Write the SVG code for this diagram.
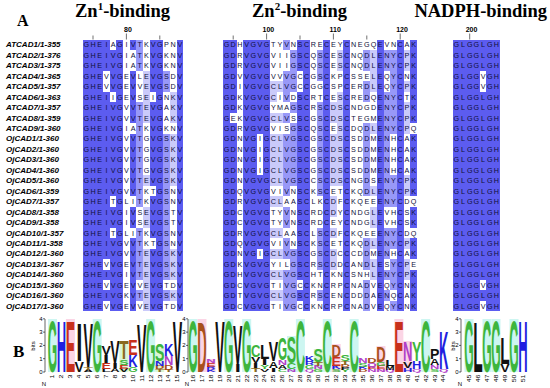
<svg xmlns="http://www.w3.org/2000/svg" width="550" height="388" viewBox="0 0 550 388">
<style>
.hd{font-family:"Liberation Serif",serif;font-weight:bold;font-size:18.5px;fill:#000}
.lab{font-family:"Liberation Sans",sans-serif;font-weight:bold;font-style:italic;font-size:8px;fill:#000}
.sq{font-family:"Liberation Sans",sans-serif;font-size:7.2px;text-anchor:middle;fill:#10103a}
.rl{font-family:"Liberation Sans",sans-serif;font-weight:bold;font-size:7px;text-anchor:middle;fill:#000}
.tk{stroke:#333;stroke-width:0.7}
.d{fill:#5c5cf0}.m{fill:#9898f8}.l{fill:#cacafa}
.lg{font-family:"Liberation Sans",sans-serif;font-weight:bold;font-size:10px;text-anchor:middle}
.g{fill:#3db53d}.b{fill:#1f1fe0}.r{fill:#c8301c}.o{fill:#a8501c}.k{fill:#111}.p{fill:#b040c8}.t{fill:#8a6a20}
.cy{fill:#cdf6f1}.pk{fill:#fbd5e5}.lgr{fill:#daf5d5}
.ax{stroke:#000;stroke-width:0.6;fill:none}
.al{font-family:"Liberation Sans",sans-serif;font-size:6px;fill:#000;text-anchor:end}
.pn{font-family:"Liberation Sans",sans-serif;font-size:5px;fill:#000;text-anchor:end}
</style>
<rect width="550" height="388" fill="#fff"/>
<g id="headers">
<text x="17" y="25.5" class="hd" style="font-size:16px">A</text>
<text x="75" y="16.5" class="hd">Zn<tspan font-size="11" dy="-6.5">1</tspan><tspan dy="6.5">-binding</tspan></text>
<text x="252" y="16.5" class="hd">Zn<tspan font-size="11" dy="-6.5">2</tspan><tspan dy="6.5">-binding</tspan></text>
<text x="547" y="16.5" class="hd" text-anchor="end">NADPH-binding</text>
<text x="13" y="357" class="hd" style="font-size:17px">B</text>
</g>
<g id="ruler">
<text x="127.9" y="32" class="rl">80</text>
<text x="268.4" y="32" class="rl">100</text>
<text x="335.2" y="32" class="rl">110</text>
<text x="402" y="32" class="rl">120</text>
<text x="471.5" y="32" class="rl">200</text>
<path class="tk" d="M93 35.5V39.5M126.4 33.5V39.5M159.8 35.5V39.5M233.2 35.5V39.5M266.6 33.5V39.5M300 35.5V39.5M333.4 33.5V39.5M366.8 35.5V39.5M400.2 33.5V39.5M469.7 33.5V39.5"/>
</g>
<g id="labels" class="lab">
<text x="6" y="47.4">ATCAD1/1-355</text>
<text x="6" y="57.85">ATCAD2/1-376</text>
<text x="6" y="68.3">ATCAD3/1-375</text>
<text x="6" y="78.75">ATCAD4/1-365</text>
<text x="6" y="89.2">ATCAD5/1-357</text>
<text x="6" y="99.65">ATCAD6/1-363</text>
<text x="6" y="110.1">ATCAD7/1-357</text>
<text x="6" y="120.55">ATCAD8/1-359</text>
<text x="6" y="131">ATCAD9/1-360</text>
<text x="6" y="141.45">OjCAD1/1-360</text>
<text x="6" y="151.9">OjCAD2/1-360</text>
<text x="6" y="162.35">OjCAD3/1-360</text>
<text x="6" y="172.8">OjCAD4/1-360</text>
<text x="6" y="183.25">OjCAD5/1-360</text>
<text x="6" y="193.7">OjCAD6/1-359</text>
<text x="6" y="204.15">OjCAD7/1-357</text>
<text x="6" y="214.6">OjCAD8/1-358</text>
<text x="6" y="225.05">OjCAD9/1-358</text>
<text x="6" y="235.5">OjCAD10/1-357</text>
<text x="6" y="245.95">OjCAD11/1-358</text>
<text x="6" y="256.4">OjCAD12/1-360</text>
<text x="6" y="266.85">OjCAD13/1-367</text>
<text x="6" y="277.3">OjCAD14/1-360</text>
<text x="6" y="287.75">OjCAD15/1-360</text>
<text x="6" y="298.2">OjCAD16/1-360</text>
<text x="6" y="308.65">OjCAD17/1-360</text>
</g>
<g id="zn1-shading" transform="translate(83,39.6) scale(6.68,10.45)" shape-rendering="crispEdges">
<rect class="d" x="0" y="0" width="3" height="26"/>
<rect class="d" x="3" y="0" width="1" height="3"/><rect class="d" x="3" y="5" width="1" height="16"/><rect class="d" x="3" y="22" width="1" height="1"/><rect class="d" x="3" y="24" width="1" height="1"/>
<rect class="d" x="4" y="1" width="1" height="4"/><rect class="d" x="4" y="6" width="1" height="9"/><rect class="d" x="4" y="16" width="1" height="2"/><rect class="d" x="4" y="19" width="1" height="7"/>
<rect class="d" x="5" y="0" width="1" height="26"/>
<rect class="d" x="7" y="0" width="1" height="1"/><rect class="d" x="7" y="3" width="1" height="5"/><rect class="d" x="7" y="9" width="1" height="6"/><rect class="d" x="7" y="16" width="1" height="2"/><rect class="d" x="7" y="19" width="1" height="7"/>
<rect class="m" x="8" y="0" width="1" height="3"/><rect class="m" x="8" y="6" width="1" height="10"/><rect class="m" x="8" y="18" width="1" height="5"/><rect class="m" x="8" y="24" width="1" height="1"/>
<rect class="l" x="9" y="3" width="1" height="5"/><rect class="l" x="9" y="13" width="1" height="1"/><rect class="l" x="9" y="16" width="1" height="2"/><rect class="l" x="9" y="20" width="1" height="6"/>
<rect class="d" x="10" y="0" width="1" height="5"/><rect class="d" x="10" y="6" width="1" height="8"/><rect class="d" x="10" y="15" width="1" height="4"/><rect class="d" x="10" y="20" width="1" height="6"/>
<rect class="d" x="11" y="0" width="1" height="26"/>
<rect class="m" x="12" y="3" width="1" height="2"/><rect class="m" x="12" y="9" width="1" height="14"/><rect class="m" x="12" y="24" width="1" height="1"/>
<rect class="l" x="13" y="5" width="1" height="3"/><rect class="l" x="13" y="9" width="1" height="5"/><rect class="l" x="13" y="20" width="1" height="3"/><rect class="l" x="13" y="24" width="1" height="1"/>
<rect class="d" x="14" y="0" width="1" height="26"/>
</g>
<g id="zn2-shading" transform="translate(223.2,39.6) scale(6.68,10.45)" shape-rendering="crispEdges">
<rect class="d" x="0" y="0" width="1" height="26"/>
<rect class="d" x="1" y="0" width="1" height="7"/><rect class="d" x="1" y="8" width="1" height="18"/>
<rect class="d" x="3" y="0" width="2" height="26"/>
<rect class="d" x="5" y="0" width="1" height="9"/><rect class="d" x="5" y="13" width="1" height="7"/><rect class="d" x="5" y="21" width="1" height="5"/>
<rect class="d" x="6" y="0" width="1" height="26"/>
<rect class="l" x="7" y="5" width="1" height="1"/>
<rect class="l" x="7" y="4" width="2" height="1"/><rect class="l" x="7" y="7" width="2" height="1"/><rect class="l" x="7" y="9" width="2" height="5"/><rect class="l" x="7" y="15" width="2" height="1"/><rect class="l" x="7" y="18" width="2" height="1"/><rect class="l" x="7" y="20" width="2" height="1"/><rect class="l" x="7" y="22" width="2" height="1"/><rect class="l" x="7" y="24" width="2" height="1"/>
<rect class="m" x="9" y="0" width="1" height="1"/><rect class="m" x="9" y="3" width="1" height="3"/><rect class="m" x="9" y="7" width="1" height="1"/><rect class="m" x="9" y="9" width="1" height="6"/><rect class="m" x="9" y="16" width="1" height="2"/><rect class="m" x="9" y="19" width="1" height="2"/><rect class="m" x="9" y="22" width="1" height="4"/>
<rect class="m" x="10" y="1" width="1" height="4"/><rect class="m" x="10" y="6" width="1" height="1"/><rect class="m" x="10" y="8" width="1" height="6"/><rect class="m" x="10" y="20" width="1" height="6"/>
<rect class="d" x="11" y="0" width="1" height="3"/><rect class="d" x="11" y="5" width="1" height="18"/><rect class="d" x="11" y="24" width="1" height="1"/>
<rect class="d" x="12" y="0" width="1" height="26"/>
<rect class="m" x="14" y="1" width="1" height="3"/><rect class="m" x="14" y="6" width="1" height="9"/><rect class="m" x="14" y="18" width="1" height="4"/><rect class="m" x="14" y="24" width="1" height="1"/>
<rect class="d" x="15" y="0" width="1" height="26"/>
<rect class="l" x="16" y="6" width="1" height="2"/><rect class="l" x="16" y="9" width="1" height="5"/><rect class="l" x="16" y="15" width="1" height="2"/><rect class="l" x="16" y="18" width="1" height="1"/><rect class="l" x="16" y="20" width="1" height="2"/>
<rect class="l" x="17" y="1" width="1" height="2"/><rect class="l" x="17" y="5" width="1" height="9"/>
<rect class="d" x="18" y="0" width="1" height="26"/>
<rect class="m" x="21" y="1" width="1" height="2"/><rect class="m" x="21" y="4" width="1" height="2"/><rect class="m" x="21" y="8" width="1" height="7"/><rect class="m" x="21" y="19" width="1" height="3"/><rect class="m" x="21" y="23" width="1" height="3"/>
<rect class="l" x="22" y="1" width="1" height="4"/><rect class="l" x="22" y="8" width="1" height="1"/><rect class="l" x="22" y="14" width="1" height="1"/><rect class="l" x="22" y="16" width="1" height="2"/><rect class="l" x="22" y="19" width="1" height="1"/><rect class="l" x="22" y="21" width="1" height="2"/>
<rect class="d" x="23" y="0" width="1" height="26"/>
<rect class="m" x="24" y="1" width="1" height="2"/><rect class="m" x="24" y="5" width="1" height="11"/><rect class="m" x="24" y="18" width="1" height="3"/><rect class="m" x="24" y="22" width="1" height="1"/><rect class="m" x="24" y="24" width="1" height="1"/>
<rect class="m" x="25" y="1" width="1" height="8"/><rect class="m" x="25" y="13" width="1" height="3"/><rect class="m" x="25" y="18" width="1" height="2"/><rect class="m" x="25" y="21" width="1" height="3"/><rect class="m" x="25" y="25" width="1" height="1"/>
<rect class="d" x="26" y="0" width="1" height="26"/>
<rect class="l" x="27" y="1" width="1" height="2"/><rect class="l" x="27" y="4" width="1" height="1"/><rect class="l" x="27" y="6" width="1" height="3"/><rect class="l" x="27" y="13" width="1" height="2"/><rect class="l" x="27" y="19" width="1" height="1"/><rect class="l" x="27" y="21" width="1" height="2"/>
<rect class="d" x="28" y="0" width="1" height="8"/><rect class="d" x="28" y="9" width="1" height="6"/><rect class="d" x="28" y="16" width="1" height="2"/><rect class="d" x="28" y="19" width="1" height="2"/><rect class="d" x="28" y="22" width="1" height="4"/>
</g>
<g id="nadph-shading" transform="translate(453,39.6) scale(6.68,10.45)" shape-rendering="crispEdges">
<rect class="d" x="0" y="0" width="4" height="26"/>
<rect class="d" x="4" y="0" width="1" height="3"/><rect class="d" x="4" y="5" width="1" height="18"/><rect class="d" x="4" y="24" width="1" height="1"/>
<rect class="d" x="5" y="0" width="2" height="26"/>
</g>
<g id="zn1-seq" class="sq" transform="translate(83,0)">
<text x="3.3 10 16.7 23.4 30.1 36.7 43.4 50.1 56.8 63.5 70.1 76.8 83.5 90.2 96.9" y="47.4">GHEIAGIVTKVGPNV</text>
<text x="3.3 10 16.7 23.4 30.1 36.7 43.4 50.1 56.8 63.5 70.1 76.8 83.5 90.2 96.9" y="57.85">GHEIVGIATKVGKNV</text>
<text x="3.3 10 16.7 23.4 30.1 36.7 43.4 50.1 56.8 63.5 70.1 76.8 83.5 90.2 96.9" y="68.3">GHEIVGIATKVGKNV</text>
<text x="3.3 10 16.7 23.4 30.1 36.7 43.4 50.1 56.8 63.5 70.1 76.8 83.5 90.2 96.9" y="78.75">GHEVVGEVLEVGSDV</text>
<text x="3.3 10 16.7 23.4 30.1 36.7 43.4 50.1 56.8 63.5 70.1 76.8 83.5 90.2 96.9" y="89.2">GHEVVGEVVEVGSDV</text>
<text x="3.3 10 16.7 23.4 30.1 36.7 43.4 50.1 56.8 63.5 70.1 76.8 83.5 90.2 96.9" y="99.65">GHEIIGEVSEIGNKV</text>
<text x="3.3 10 16.7 23.4 30.1 36.7 43.4 50.1 56.8 63.5 70.1 76.8 83.5 90.2 96.9" y="110.1">GHEIVGVVTEVGAKV</text>
<text x="3.3 10 16.7 23.4 30.1 36.7 43.4 50.1 56.8 63.5 70.1 76.8 83.5 90.2 96.9" y="120.55">GHEIVGVVTEVGAKV</text>
<text x="3.3 10 16.7 23.4 30.1 36.7 43.4 50.1 56.8 63.5 70.1 76.8 83.5 90.2 96.9" y="131">GHEIVGIATKVGKNV</text>
<text x="3.3 10 16.7 23.4 30.1 36.7 43.4 50.1 56.8 63.5 70.1 76.8 83.5 90.2 96.9" y="141.45">GHEIVGVVTGVGSKV</text>
<text x="3.3 10 16.7 23.4 30.1 36.7 43.4 50.1 56.8 63.5 70.1 76.8 83.5 90.2 96.9" y="151.9">GHEIVGVVTGVGSKV</text>
<text x="3.3 10 16.7 23.4 30.1 36.7 43.4 50.1 56.8 63.5 70.1 76.8 83.5 90.2 96.9" y="162.35">GHEIVGVVTGVGSKV</text>
<text x="3.3 10 16.7 23.4 30.1 36.7 43.4 50.1 56.8 63.5 70.1 76.8 83.5 90.2 96.9" y="172.8">GHEIVGVVTGVGSKV</text>
<text x="3.3 10 16.7 23.4 30.1 36.7 43.4 50.1 56.8 63.5 70.1 76.8 83.5 90.2 96.9" y="183.25">GHEIVGVVTEVGSKV</text>
<text x="3.3 10 16.7 23.4 30.1 36.7 43.4 50.1 56.8 63.5 70.1 76.8 83.5 90.2 96.9" y="193.7">GHEIVGVVTKTGSNV</text>
<text x="3.3 10 16.7 23.4 30.1 36.7 43.4 50.1 56.8 63.5 70.1 76.8 83.5 90.2 96.9" y="204.15">GHEITGLITKVGSNV</text>
<text x="3.3 10 16.7 23.4 30.1 36.7 43.4 50.1 56.8 63.5 70.1 76.8 83.5 90.2 96.9" y="214.6">GHEIVGIVSEVGSTV</text>
<text x="3.3 10 16.7 23.4 30.1 36.7 43.4 50.1 56.8 63.5 70.1 76.8 83.5 90.2 96.9" y="225.05">GHEIVGIVSEVGSTV</text>
<text x="3.3 10 16.7 23.4 30.1 36.7 43.4 50.1 56.8 63.5 70.1 76.8 83.5 90.2 96.9" y="235.5">GHEITGLITKVGSNV</text>
<text x="3.3 10 16.7 23.4 30.1 36.7 43.4 50.1 56.8 63.5 70.1 76.8 83.5 90.2 96.9" y="245.95">GHEIVGVVTKTGSNV</text>
<text x="3.3 10 16.7 23.4 30.1 36.7 43.4 50.1 56.8 63.5 70.1 76.8 83.5 90.2 96.9" y="256.4">GHEIVGVVTEVGSKV</text>
<text x="3.3 10 16.7 23.4 30.1 36.7 43.4 50.1 56.8 63.5 70.1 76.8 83.5 90.2 96.9" y="266.85">GHEVVGEVTEVGSKV</text>
<text x="3.3 10 16.7 23.4 30.1 36.7 43.4 50.1 56.8 63.5 70.1 76.8 83.5 90.2 96.9" y="277.3">GHEIVGIVTEVGSKV</text>
<text x="3.3 10 16.7 23.4 30.1 36.7 43.4 50.1 56.8 63.5 70.1 76.8 83.5 90.2 96.9" y="287.75">GHEVVGEVVEVGTDV</text>
<text x="3.3 10 16.7 23.4 30.1 36.7 43.4 50.1 56.8 63.5 70.1 76.8 83.5 90.2 96.9" y="298.2">GHEIVGKVTEVGSKV</text>
<text x="3.3 10 16.7 23.4 30.1 36.7 43.4 50.1 56.8 63.5 70.1 76.8 83.5 90.2 96.9" y="308.65">GHEVVGEVVEVGTDV</text>
</g>
<g id="zn2-seq" class="sq" transform="translate(223.2,0)">
<text x="3.3 10 16.7 23.4 30.1 36.7 43.4 50.1 56.8 63.5 70.1 76.8 83.5 90.2 96.9 103.5 110.2 116.9 123.6 130.3 136.9 143.6 150.3 157 163.7 170.3 177 183.7 190.4" y="47.4">GDHVGVGTYVNSCRECEYCNEGQEVNCAK</text>
<text x="3.3 10 16.7 23.4 30.1 36.7 43.4 50.1 56.8 63.5 70.1 76.8 83.5 90.2 96.9 103.5 110.2 116.9 123.6 130.3 136.9 143.6 150.3 157 163.7 170.3 177 183.7 190.4" y="57.85">GDRVGVGVIIGSCQSCESCNQDLENYCPK</text>
<text x="3.3 10 16.7 23.4 30.1 36.7 43.4 50.1 56.8 63.5 70.1 76.8 83.5 90.2 96.9 103.5 110.2 116.9 123.6 130.3 136.9 143.6 150.3 157 163.7 170.3 177 183.7 190.4" y="68.3">GDRVGVGVIIGSCQSCESCNQDLENYCPK</text>
<text x="3.3 10 16.7 23.4 30.1 36.7 43.4 50.1 56.8 63.5 70.1 76.8 83.5 90.2 96.9 103.5 110.2 116.9 123.6 130.3 136.9 143.6 150.3 157 163.7 170.3 177 183.7 190.4" y="78.75">GDVVGVGVVVGCCGSCKPCSSELEQYCNK</text>
<text x="3.3 10 16.7 23.4 30.1 36.7 43.4 50.1 56.8 63.5 70.1 76.8 83.5 90.2 96.9 103.5 110.2 116.9 123.6 130.3 136.9 143.6 150.3 157 163.7 170.3 177 183.7 190.4" y="89.2">GDIVGVGCLVGCCGGCSPCERDLEQYCPK</text>
<text x="3.3 10 16.7 23.4 30.1 36.7 43.4 50.1 56.8 63.5 70.1 76.8 83.5 90.2 96.9 103.5 110.2 116.9 123.6 130.3 136.9 143.6 150.3 157 163.7 170.3 177 183.7 190.4" y="99.65">GDKVGVGCIVDSCRTCESCREDQENYCTK</text>
<text x="3.3 10 16.7 23.4 30.1 36.7 43.4 50.1 56.8 63.5 70.1 76.8 83.5 90.2 96.9 103.5 110.2 116.9 123.6 130.3 136.9 143.6 150.3 157 163.7 170.3 177 183.7 190.4" y="110.1">GDKVGVGYMAGSCRSCDSCNDGDENYCPK</text>
<text x="3.3 10 16.7 23.4 30.1 36.7 43.4 50.1 56.8 63.5 70.1 76.8 83.5 90.2 96.9 103.5 110.2 116.9 123.6 130.3 136.9 143.6 150.3 157 163.7 170.3 177 183.7 190.4" y="120.55">GEKVGVGCLVSSCGSCDSCTEGMENYCPK</text>
<text x="3.3 10 16.7 23.4 30.1 36.7 43.4 50.1 56.8 63.5 70.1 76.8 83.5 90.2 96.9 103.5 110.2 116.9 123.6 130.3 136.9 143.6 150.3 157 163.7 170.3 177 183.7 190.4" y="131">GDRVGVGVISGSCQSCESCDQDLENYCPQ</text>
<text x="3.3 10 16.7 23.4 30.1 36.7 43.4 50.1 56.8 63.5 70.1 76.8 83.5 90.2 96.9 103.5 110.2 116.9 123.6 130.3 136.9 143.6 150.3 157 163.7 170.3 177 183.7 190.4" y="141.45">GDNVGIGCLVGSCGSCDSCSDDMENHCAK</text>
<text x="3.3 10 16.7 23.4 30.1 36.7 43.4 50.1 56.8 63.5 70.1 76.8 83.5 90.2 96.9 103.5 110.2 116.9 123.6 130.3 136.9 143.6 150.3 157 163.7 170.3 177 183.7 190.4" y="151.9">GDNVGIGCLVGSCGSCDSCSDDMENHCAK</text>
<text x="3.3 10 16.7 23.4 30.1 36.7 43.4 50.1 56.8 63.5 70.1 76.8 83.5 90.2 96.9 103.5 110.2 116.9 123.6 130.3 136.9 143.6 150.3 157 163.7 170.3 177 183.7 190.4" y="162.35">GDNVGIGCLVGSCGSCDSCSDDMENHCAK</text>
<text x="3.3 10 16.7 23.4 30.1 36.7 43.4 50.1 56.8 63.5 70.1 76.8 83.5 90.2 96.9 103.5 110.2 116.9 123.6 130.3 136.9 143.6 150.3 157 163.7 170.3 177 183.7 190.4" y="172.8">GDNVGIGCLVGSCGSCDSCSDDMENHCAK</text>
<text x="3.3 10 16.7 23.4 30.1 36.7 43.4 50.1 56.8 63.5 70.1 76.8 83.5 90.2 96.9 103.5 110.2 116.9 123.6 130.3 136.9 143.6 150.3 157 163.7 170.3 177 183.7 190.4" y="183.25">GDNVGVGCLVGSCCSCDSCNGDSENYCPK</text>
<text x="3.3 10 16.7 23.4 30.1 36.7 43.4 50.1 56.8 63.5 70.1 76.8 83.5 90.2 96.9 103.5 110.2 116.9 123.6 130.3 136.9 143.6 150.3 157 163.7 170.3 177 183.7 190.4" y="193.7">GDQVGVGVIVNSCKSCETCKQDLENYCPK</text>
<text x="3.3 10 16.7 23.4 30.1 36.7 43.4 50.1 56.8 63.5 70.1 76.8 83.5 90.2 96.9 103.5 110.2 116.9 123.6 130.3 136.9 143.6 150.3 157 163.7 170.3 177 183.7 190.4" y="204.15">GDRVGVGCLAASCLKCDFCKQEEENYCDQ</text>
<text x="3.3 10 16.7 23.4 30.1 36.7 43.4 50.1 56.8 63.5 70.1 76.8 83.5 90.2 96.9 103.5 110.2 116.9 123.6 130.3 136.9 143.6 150.3 157 163.7 170.3 177 183.7 190.4" y="214.6">GDCVGVGTYVNSCRDCDYCNDGLEVHCSK</text>
<text x="3.3 10 16.7 23.4 30.1 36.7 43.4 50.1 56.8 63.5 70.1 76.8 83.5 90.2 96.9 103.5 110.2 116.9 123.6 130.3 136.9 143.6 150.3 157 163.7 170.3 177 183.7 190.4" y="225.05">GDCVGVGTYVNSCRDCEYCNDGLEVHCSK</text>
<text x="3.3 10 16.7 23.4 30.1 36.7 43.4 50.1 56.8 63.5 70.1 76.8 83.5 90.2 96.9 103.5 110.2 116.9 123.6 130.3 136.9 143.6 150.3 157 163.7 170.3 177 183.7 190.4" y="235.5">GDRVGVGCLAASCLSCDFCKQEEENYCDQ</text>
<text x="3.3 10 16.7 23.4 30.1 36.7 43.4 50.1 56.8 63.5 70.1 76.8 83.5 90.2 96.9 103.5 110.2 116.9 123.6 130.3 136.9 143.6 150.3 157 163.7 170.3 177 183.7 190.4" y="245.95">GDQVGVGVIVNSCKSCETCKQDLENYCPK</text>
<text x="3.3 10 16.7 23.4 30.1 36.7 43.4 50.1 56.8 63.5 70.1 76.8 83.5 90.2 96.9 103.5 110.2 116.9 123.6 130.3 136.9 143.6 150.3 157 163.7 170.3 177 183.7 190.4" y="256.4">GDNVGIGCLVGSCGSCDCCCDDMENHCAK</text>
<text x="3.3 10 16.7 23.4 30.1 36.7 43.4 50.1 56.8 63.5 70.1 76.8 83.5 90.2 96.9 103.5 110.2 116.9 123.6 130.3 136.9 143.6 150.3 157 163.7 170.3 177 183.7 190.4" y="266.85">GDKVGVGYILGSCRSCDDCANDLESYCPE</text>
<text x="3.3 10 16.7 23.4 30.1 36.7 43.4 50.1 56.8 63.5 70.1 76.8 83.5 90.2 96.9 103.5 110.2 116.9 123.6 130.3 136.9 143.6 150.3 157 163.7 170.3 177 183.7 190.4" y="277.3">GDHVGVGCLVGSCHTCKNCSNHLENYCPK</text>
<text x="3.3 10 16.7 23.4 30.1 36.7 43.4 50.1 56.8 63.5 70.1 76.8 83.5 90.2 96.9 103.5 110.2 116.9 123.6 130.3 136.9 143.6 150.3 157 163.7 170.3 177 183.7 190.4" y="287.75">GDCVGVGTIVGCCKNCRPCNADVEQYCNK</text>
<text x="3.3 10 16.7 23.4 30.1 36.7 43.4 50.1 56.8 63.5 70.1 76.8 83.5 90.2 96.9 103.5 110.2 116.9 123.6 130.3 136.9 143.6 150.3 157 163.7 170.3 177 183.7 190.4" y="298.2">GDTVGVGCLVGSCRSCENCDDDAENQCAK</text>
<text x="3.3 10 16.7 23.4 30.1 36.7 43.4 50.1 56.8 63.5 70.1 76.8 83.5 90.2 96.9 103.5 110.2 116.9 123.6 130.3 136.9 143.6 150.3 157 163.7 170.3 177 183.7 190.4" y="308.65">GDCVGVGTIVGCCKNCRPCNADVEQYCNK</text>
</g>
<g id="nadph-seq" class="sq" transform="translate(453,0)">
<text x="3.3 10 16.7 23.4 30.1 36.7 43.4" y="47.4">GLGGLGH</text>
<text x="3.3 10 16.7 23.4 30.1 36.7 43.4" y="57.85">GLGGLGH</text>
<text x="3.3 10 16.7 23.4 30.1 36.7 43.4" y="68.3">GLGGLGH</text>
<text x="3.3 10 16.7 23.4 30.1 36.7 43.4" y="78.75">GLGGVGH</text>
<text x="3.3 10 16.7 23.4 30.1 36.7 43.4" y="89.2">GLGGVGH</text>
<text x="3.3 10 16.7 23.4 30.1 36.7 43.4" y="99.65">GLGGLGH</text>
<text x="3.3 10 16.7 23.4 30.1 36.7 43.4" y="110.1">GLGGLGH</text>
<text x="3.3 10 16.7 23.4 30.1 36.7 43.4" y="120.55">GLGGLGH</text>
<text x="3.3 10 16.7 23.4 30.1 36.7 43.4" y="131">GLGGLGH</text>
<text x="3.3 10 16.7 23.4 30.1 36.7 43.4" y="141.45">GLGGLGH</text>
<text x="3.3 10 16.7 23.4 30.1 36.7 43.4" y="151.9">GLGGLGH</text>
<text x="3.3 10 16.7 23.4 30.1 36.7 43.4" y="162.35">GLGGLGH</text>
<text x="3.3 10 16.7 23.4 30.1 36.7 43.4" y="172.8">GLGGLGH</text>
<text x="3.3 10 16.7 23.4 30.1 36.7 43.4" y="183.25">GLGGLGH</text>
<text x="3.3 10 16.7 23.4 30.1 36.7 43.4" y="193.7">GLGGLGH</text>
<text x="3.3 10 16.7 23.4 30.1 36.7 43.4" y="204.15">GLGGLGH</text>
<text x="3.3 10 16.7 23.4 30.1 36.7 43.4" y="214.6">GLGGLGH</text>
<text x="3.3 10 16.7 23.4 30.1 36.7 43.4" y="225.05">GLGGLGH</text>
<text x="3.3 10 16.7 23.4 30.1 36.7 43.4" y="235.5">GLGGLGH</text>
<text x="3.3 10 16.7 23.4 30.1 36.7 43.4" y="245.95">GLGGLGH</text>
<text x="3.3 10 16.7 23.4 30.1 36.7 43.4" y="256.4">GLGGLGH</text>
<text x="3.3 10 16.7 23.4 30.1 36.7 43.4" y="266.85">GLGGLGH</text>
<text x="3.3 10 16.7 23.4 30.1 36.7 43.4" y="277.3">GLGGLGH</text>
<text x="3.3 10 16.7 23.4 30.1 36.7 43.4" y="287.75">GLGGVGH</text>
<text x="3.3 10 16.7 23.4 30.1 36.7 43.4" y="298.2">GLGGLGH</text>
<text x="3.3 10 16.7 23.4 30.1 36.7 43.4" y="308.65">GLGGVGH</text>
</g>
<g id="logo-bg">
<rect class="cy" x="48" y="319" width="9" height="53"/>
<rect class="pk" x="65.9" y="319" width="9" height="53"/>
<rect class="cy" x="92.7" y="319" width="9" height="53"/>
<rect class="lgr" x="119.4" y="344" width="9" height="28"/>
<rect class="cy" x="146.2" y="319" width="9" height="53"/>
<rect class="lgr" x="155.2" y="346" width="9" height="26"/>
<rect class="cy" x="188.5" y="319" width="9" height="53"/>
<rect class="pk" x="197.45" y="319" width="9" height="53"/>
<rect class="pk" x="206.4" y="359" width="9" height="13"/>
<rect class="cy" x="224.3" y="319" width="9" height="53"/>
<rect class="cy" x="242.2" y="319" width="9" height="53"/>
<rect class="cy" x="286.95" y="336" width="9" height="36"/>
<rect class="cy" x="295.9" y="319" width="9" height="53"/>
<rect class="lgr" x="313.8" y="349" width="9" height="23"/>
<rect class="cy" x="322.75" y="319" width="9" height="53"/>
<rect class="pk" x="331.7" y="344" width="9" height="28"/>
<rect class="cy" x="349.6" y="319" width="9" height="53"/>
<rect class="pk" x="376.45" y="346" width="9" height="26"/>
<rect class="pk" x="394.35" y="319" width="9" height="53"/>
<rect class="pk" x="403.3" y="341" width="9" height="31"/>
<rect class="cy" x="421.2" y="319" width="9" height="53"/>
<rect class="cy" x="464.5" y="319" width="9" height="53"/>
<rect class="cy" x="482.5" y="319" width="9" height="53"/>
<rect class="cy" x="491.5" y="319" width="9" height="53"/>
<rect class="cy" x="509.5" y="319" width="9" height="53"/>
</g>
<g id="logo-axes">
<path class="ax" d="M45 319V372M43 372H45M43 358.7H45M43 345.4H45M43 332.1H45M43 318.8H45"/>
<path class="ax" d="M188 319V372M186 372H188M186 358.7H188M186 345.4H188M186 332.1H188M186 318.8H188"/>
<path class="ax" d="M461 319V372M459 372H461M459 358.7H461M459 345.4H461M459 332.1H461M459 318.8H461"/>
<g class="al">
<text x="42.5" y="374">0</text><text x="42.5" y="360.7">1</text><text x="42.5" y="347.4">2</text><text x="42.5" y="334.1">3</text><text x="42.5" y="320.8">4</text>
<text x="185.5" y="374">0</text><text x="185.5" y="360.7">1</text><text x="185.5" y="347.4">2</text><text x="185.5" y="334.1">3</text><text x="185.5" y="320.8">4</text>
<text x="458.5" y="374">0</text><text x="458.5" y="360.7">1</text><text x="458.5" y="347.4">2</text><text x="458.5" y="334.1">3</text><text x="458.5" y="320.8">4</text>
</g>
<text class="al" text-anchor="middle" transform="translate(35,346) rotate(-90)" style="text-anchor:middle">bits</text>
<text class="al" transform="translate(455,346) rotate(-90)" style="text-anchor:middle">bits</text>
<text class="al" x="44" y="386" style="text-anchor:middle">N</text>
<text class="al" x="187" y="386" style="text-anchor:middle">N</text>
<text class="al" x="460" y="386" style="text-anchor:middle">N</text>
</g>
<g id="logo-letters" class="lg">
<text class="g" transform="translate(52.5,372) scale(1.21,7.244)">G</text>
<text class="b" transform="translate(61.43,372) scale(1.3,7.244)">H</text>
<text class="r" transform="translate(70.36,372) scale(1.41,7.244)">E</text>
<text class="k" transform="translate(79.29,372) scale(1.41,1.486)">V</text>
<text class="k" transform="translate(79.29,361.36) scale(2.2,5.387)">I</text>
<text class="k" transform="translate(88.22,372) scale(1.3,0.279)">A</text>
<text class="t" transform="translate(88.22,370) scale(1.54,0.372)">T</text>
<text class="k" transform="translate(88.22,367.34) scale(1.41,6.316)">V</text>
<text class="g" transform="translate(97.15,372) scale(1.21,7.244)">G</text>
<text class="k" transform="translate(106.08,372) scale(1.54,0.464)">L</text>
<text class="r" transform="translate(106.08,368.68) scale(1.41,0.836)">E</text>
<text class="k" transform="translate(106.08,362.69) scale(2.2,1.115)">I</text>
<text class="k" transform="translate(106.08,354.71) scale(1.41,1.3)">V</text>
<text class="k" transform="translate(115.01,372) scale(1.3,0.557)">A</text>
<text class="k" transform="translate(115.01,368.01) scale(2.2,0.65)">I</text>
<text class="k" transform="translate(115.01,363.36) scale(1.41,3.158)">V</text>
<text class="k" transform="translate(123.94,372) scale(1.41,0.464)">V</text>
<text class="r" transform="translate(123.94,368.68) scale(1.41,0.557)">E</text>
<text class="g" transform="translate(123.94,364.69) scale(1.41,0.743)">S</text>
<text class="t" transform="translate(123.94,359.37) scale(1.54,2.6)">T</text>
<text class="g" transform="translate(132.87,372) scale(1.21,0.65)">G</text>
<text class="b" transform="translate(132.87,367.35) scale(1.3,1.672)">K</text>
<text class="r" transform="translate(132.87,355.38) scale(1.41,2.229)">E</text>
<text class="k" transform="translate(141.8,372) scale(1.41,6.873)">V</text>
<text class="g" transform="translate(150.73,372) scale(1.21,7.244)">G</text>
<text class="t" transform="translate(159.66,372) scale(1.54,0.372)">T</text>
<text class="o" transform="translate(159.66,369.34) scale(1.3,0.464)">D</text>
<text class="b" transform="translate(159.66,366.02) scale(1.3,0.65)">N</text>
<text class="g" transform="translate(159.66,361.36) scale(1.41,2.415)">S</text>
<text class="t" transform="translate(168.59,372) scale(1.54,0.279)">T</text>
<text class="o" transform="translate(168.59,370) scale(1.3,0.65)">D</text>
<text class="p" transform="translate(168.59,365.35) scale(1.3,1.3)">N</text>
<text class="b" transform="translate(168.59,356.04) scale(1.3,1.672)">K</text>
<text class="k" transform="translate(177.52,372) scale(1.41,7.244)">V</text>
<text class="g" transform="translate(193,372) scale(1.21,7.244)">G</text>
<text class="o" transform="translate(201.95,372) scale(1.3,7.059)">D</text>
<text class="b" transform="translate(210.9,372) scale(1.3,0.372)">K</text>
<text class="b" transform="translate(210.9,369.34) scale(1.3,0.372)">R</text>
<text class="r" transform="translate(210.9,366.68) scale(1.41,0.464)">E</text>
<text class="p" transform="translate(210.9,363.36) scale(1.3,0.557)">N</text>
<text class="k" transform="translate(219.85,372) scale(1.41,7.244)">V</text>
<text class="g" transform="translate(228.8,372) scale(1.21,7.244)">G</text>
<text class="k" transform="translate(237.75,372) scale(2.2,1.115)">I</text>
<text class="k" transform="translate(237.75,364.02) scale(1.41,5.573)">V</text>
<text class="g" transform="translate(246.7,372) scale(1.21,7.244)">G</text>
<text class="t" transform="translate(255.65,372) scale(1.54,0.557)">T</text>
<text class="k" transform="translate(255.65,368.01) scale(2.2,0.743)">I</text>
<text class="k" transform="translate(255.65,362.69) scale(1.41,0.836)">V</text>
<text class="g" transform="translate(255.65,356.71) scale(1.3,1.672)">C</text>
<text class="k" transform="translate(264.6,372) scale(1.41,0.372)">V</text>
<text class="g" transform="translate(264.6,369.34) scale(1.41,0.557)">Y</text>
<text class="k" transform="translate(264.6,365.35) scale(2.2,0.836)">I</text>
<text class="k" transform="translate(264.6,359.37) scale(1.54,2.043)">L</text>
<text class="k" transform="translate(273.55,372) scale(2.2,0.557)">I</text>
<text class="k" transform="translate(273.55,368.01) scale(1.3,0.929)">A</text>
<text class="k" transform="translate(273.55,361.36) scale(1.41,2.786)">V</text>
<text class="g" transform="translate(282.5,372) scale(1.3,0.372)">C</text>
<text class="k" transform="translate(282.5,369.34) scale(1.3,0.557)">A</text>
<text class="p" transform="translate(282.5,365.35) scale(1.3,0.743)">N</text>
<text class="g" transform="translate(282.5,360.03) scale(1.21,3.158)">G</text>
<text class="p" transform="translate(291.45,372) scale(1.3,0.372)">N</text>
<text class="g" transform="translate(291.45,369.34) scale(1.3,0.929)">C</text>
<text class="g" transform="translate(291.45,362.69) scale(1.41,3.715)">S</text>
<text class="g" transform="translate(300.4,372) scale(1.3,7.244)">C</text>
<text class="p" transform="translate(309.35,372) scale(1.21,0.372)">Q</text>
<text class="g" transform="translate(309.35,369.34) scale(1.21,0.557)">G</text>
<text class="b" transform="translate(309.35,365.35) scale(1.3,0.557)">R</text>
<text class="b" transform="translate(309.35,361.36) scale(1.3,0.65)">K</text>
<text class="g" transform="translate(318.3,372) scale(1.21,0.372)">G</text>
<text class="p" transform="translate(318.3,369.34) scale(1.3,0.464)">N</text>
<text class="t" transform="translate(318.3,366.02) scale(1.54,0.557)">T</text>
<text class="g" transform="translate(318.3,362.03) scale(1.41,1.858)">S</text>
<text class="g" transform="translate(327.25,372) scale(1.3,7.244)">C</text>
<text class="g" transform="translate(336.2,372) scale(1.41,0.372)">S</text>
<text class="b" transform="translate(336.2,369.34) scale(1.3,0.464)">K</text>
<text class="r" transform="translate(336.2,366.02) scale(1.41,1.3)">E</text>
<text class="o" transform="translate(336.2,356.71) scale(1.3,1.672)">D</text>
<text class="g" transform="translate(345.15,372) scale(1.41,0.279)">Y</text>
<text class="k" transform="translate(345.15,370) scale(1.41,0.372)">P</text>
<text class="o" transform="translate(345.15,367.34) scale(1.3,0.372)">D</text>
<text class="t" transform="translate(345.15,364.68) scale(1.54,0.464)">T</text>
<text class="g" transform="translate(345.15,361.36) scale(1.41,0.929)">S</text>
<text class="g" transform="translate(354.1,372) scale(1.3,7.244)">C</text>
<text class="o" transform="translate(363.05,372) scale(1.3,0.372)">D</text>
<text class="b" transform="translate(363.05,369.34) scale(1.3,0.372)">K</text>
<text class="g" transform="translate(363.05,366.68) scale(1.41,0.464)">S</text>
<text class="p" transform="translate(363.05,363.36) scale(1.3,0.65)">N</text>
<text class="p" transform="translate(372,372) scale(1.3,0.372)">N</text>
<text class="r" transform="translate(372,369.34) scale(1.41,0.372)">E</text>
<text class="p" transform="translate(372,366.68) scale(1.21,0.464)">Q</text>
<text class="o" transform="translate(372,363.36) scale(1.3,0.65)">D</text>
<text class="p" transform="translate(380.95,372) scale(1.3,0.372)">N</text>
<text class="r" transform="translate(380.95,369.34) scale(1.41,0.464)">E</text>
<text class="g" transform="translate(380.95,366.02) scale(1.21,0.557)">G</text>
<text class="o" transform="translate(380.95,362.03) scale(1.3,2.229)">D</text>
<text class="p" transform="translate(389.9,372) scale(1.21,0.279)">Q</text>
<text class="k" transform="translate(389.9,370) scale(1.13,0.557)">M</text>
<text class="k" transform="translate(389.9,366.01) scale(1.54,0.836)">L</text>
<text class="r" transform="translate(398.85,372) scale(1.41,7.244)">E</text>
<text class="b" transform="translate(407.8,372) scale(1.3,0.557)">H</text>
<text class="k" transform="translate(407.8,368.01) scale(1.41,0.929)">V</text>
<text class="p" transform="translate(407.8,361.36) scale(1.3,2.786)">N</text>
<text class="p" transform="translate(416.75,372) scale(1.21,0.372)">Q</text>
<text class="b" transform="translate(416.75,369.34) scale(1.3,1.115)">H</text>
<text class="g" transform="translate(416.75,361.36) scale(1.41,2.786)">Y</text>
<text class="g" transform="translate(425.7,372) scale(1.3,7.244)">C</text>
<text class="g" transform="translate(434.65,372) scale(1.41,0.372)">S</text>
<text class="p" transform="translate(434.65,369.34) scale(1.3,0.557)">N</text>
<text class="k" transform="translate(434.65,365.35) scale(1.3,0.929)">A</text>
<text class="k" transform="translate(434.65,358.7) scale(1.41,1.486)">P</text>
<text class="p" transform="translate(443.6,372) scale(1.21,0.372)">Q</text>
<text class="b" transform="translate(443.6,369.34) scale(1.3,5.387)">K</text>
<text class="g" transform="translate(469,372) scale(1.21,7.244)">G</text>
<text class="k" transform="translate(478,372) scale(1.54,7.059)">L</text>
<text class="g" transform="translate(487,372) scale(1.21,7.244)">G</text>
<text class="g" transform="translate(496,372) scale(1.21,7.244)">G</text>
<text class="k" transform="translate(505,372) scale(1.41,1.115)">V</text>
<text class="k" transform="translate(505,364.02) scale(1.54,3.715)">L</text>
<text class="g" transform="translate(514,372) scale(1.21,7.244)">G</text>
<text class="b" transform="translate(523,372) scale(1.3,7.244)">H</text>
</g>
<g id="logo-positions" class="pn">
<text transform="translate(54.3,374.5) rotate(-90) scale(1.4,1)">1</text>
<text transform="translate(63.2,374.5) rotate(-90) scale(1.4,1)">2</text>
<text transform="translate(72.2,374.5) rotate(-90) scale(1.4,1)">3</text>
<text transform="translate(81.1,374.5) rotate(-90) scale(1.4,1)">4</text>
<text transform="translate(90,374.5) rotate(-90) scale(1.4,1)">5</text>
<text transform="translate(98.9,374.5) rotate(-90) scale(1.4,1)">6</text>
<text transform="translate(107.9,374.5) rotate(-90) scale(1.4,1)">7</text>
<text transform="translate(116.8,374.5) rotate(-90) scale(1.4,1)">8</text>
<text transform="translate(125.7,374.5) rotate(-90) scale(1.4,1)">9</text>
<text transform="translate(134.7,374.5) rotate(-90) scale(1.4,1)">10</text>
<text transform="translate(143.6,374.5) rotate(-90) scale(1.4,1)">11</text>
<text transform="translate(152.5,374.5) rotate(-90) scale(1.4,1)">12</text>
<text transform="translate(161.5,374.5) rotate(-90) scale(1.4,1)">13</text>
<text transform="translate(170.4,374.5) rotate(-90) scale(1.4,1)">14</text>
<text transform="translate(179.3,374.5) rotate(-90) scale(1.4,1)">15</text>
<text transform="translate(194.8,374.5) rotate(-90) scale(1.4,1)">16</text>
<text transform="translate(203.8,374.5) rotate(-90) scale(1.4,1)">17</text>
<text transform="translate(212.7,374.5) rotate(-90) scale(1.4,1)">18</text>
<text transform="translate(221.7,374.5) rotate(-90) scale(1.4,1)">19</text>
<text transform="translate(230.6,374.5) rotate(-90) scale(1.4,1)">20</text>
<text transform="translate(239.6,374.5) rotate(-90) scale(1.4,1)">21</text>
<text transform="translate(248.5,374.5) rotate(-90) scale(1.4,1)">22</text>
<text transform="translate(257.5,374.5) rotate(-90) scale(1.4,1)">23</text>
<text transform="translate(266.4,374.5) rotate(-90) scale(1.4,1)">24</text>
<text transform="translate(275.4,374.5) rotate(-90) scale(1.4,1)">25</text>
<text transform="translate(284.3,374.5) rotate(-90) scale(1.4,1)">26</text>
<text transform="translate(293.3,374.5) rotate(-90) scale(1.4,1)">27</text>
<text transform="translate(302.2,374.5) rotate(-90) scale(1.4,1)">28</text>
<text transform="translate(311.2,374.5) rotate(-90) scale(1.4,1)">29</text>
<text transform="translate(320.1,374.5) rotate(-90) scale(1.4,1)">30</text>
<text transform="translate(329.1,374.5) rotate(-90) scale(1.4,1)">31</text>
<text transform="translate(338,374.5) rotate(-90) scale(1.4,1)">32</text>
<text transform="translate(347,374.5) rotate(-90) scale(1.4,1)">33</text>
<text transform="translate(355.9,374.5) rotate(-90) scale(1.4,1)">34</text>
<text transform="translate(364.9,374.5) rotate(-90) scale(1.4,1)">35</text>
<text transform="translate(373.8,374.5) rotate(-90) scale(1.4,1)">36</text>
<text transform="translate(382.8,374.5) rotate(-90) scale(1.4,1)">37</text>
<text transform="translate(391.7,374.5) rotate(-90) scale(1.4,1)">38</text>
<text transform="translate(400.7,374.5) rotate(-90) scale(1.4,1)">39</text>
<text transform="translate(409.6,374.5) rotate(-90) scale(1.4,1)">40</text>
<text transform="translate(418.6,374.5) rotate(-90) scale(1.4,1)">41</text>
<text transform="translate(427.5,374.5) rotate(-90) scale(1.4,1)">42</text>
<text transform="translate(436.5,374.5) rotate(-90) scale(1.4,1)">43</text>
<text transform="translate(445.4,374.5) rotate(-90) scale(1.4,1)">44</text>
<text transform="translate(470.8,374.5) rotate(-90) scale(1.4,1)">45</text>
<text transform="translate(479.8,374.5) rotate(-90) scale(1.4,1)">46</text>
<text transform="translate(488.8,374.5) rotate(-90) scale(1.4,1)">47</text>
<text transform="translate(497.8,374.5) rotate(-90) scale(1.4,1)">48</text>
<text transform="translate(506.8,374.5) rotate(-90) scale(1.4,1)">49</text>
<text transform="translate(515.8,374.5) rotate(-90) scale(1.4,1)">50</text>
<text transform="translate(524.8,374.5) rotate(-90) scale(1.4,1)">51</text>
</g>
</svg>
